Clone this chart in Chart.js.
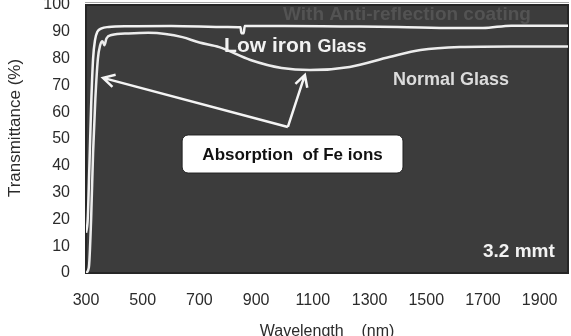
<!DOCTYPE html>
<html>
<head>
<meta charset="utf-8">
<script src="https://cdn.jsdelivr.net/npm/chart.js@4.4.1/dist/chart.umd.min.js"></script>
<style>
  html, body { margin: 0; padding: 0; background: #fff; }
  #grafico { display: block; }
</style>
</head>
<body>
<canvas id="grafico" width="571" height="336"></canvas>
<script>
// Datos (longitud de onda en nm, transmitancia en %)
const wlLowIron = [300, 306, 312, 318, 325, 332, 340, 355, 380, 450, 600, 800, 845, 848, 856, 860, 1000, 1200, 1400, 1600, 1700, 1800, 1900, 2000];
const tLowIron  = [15, 20, 40, 62, 80, 87, 90, 91.3, 91.8, 92.1, 92.2, 91.8, 91.7, 89.5, 89.5, 92.2, 92.2, 92.0, 91.8, 91.4, 91.4, 92.3, 92.3, 92.3];

const wlNormal = [300, 310, 318, 325, 333, 342, 350, 358, 365, 372, 390, 450, 520, 580, 640, 700, 770, 880, 990, 1090, 1230, 1370, 1480, 1620, 1800, 2000];
const tNormal  = [0, 2, 20, 45, 65, 80, 85, 86.5, 85, 87.5, 88.8, 89.4, 89.6, 89.2, 88, 86, 84.3, 79.5, 76.5, 75.7, 76.9, 80.6, 83.2, 84.3, 84.5, 84.5];

const xTicks = [300, 500, 700, 900, 1100, 1300, 1500, 1700, 1900];

// Anotaciones (en unidades de datos)
const flechaUnion = [1012, 54.5];
const flechaPuntas = [[360, 72.8], [1072, 73.9]];
const cajaX = [639, 1418];
const cajaY = [37.3, 51.5];

const FUENTE = '"Liberation Sans", Arial, sans-serif';

const fondoGrafico = {
    id: 'fondoGrafico',
    beforeDraw(chart) {
        const { ctx, chartArea: a } = chart;
        ctx.save();
        ctx.fillStyle = '#3c3c3c';
        ctx.fillRect(a.left, a.top, a.right - a.left, a.bottom - a.top);
        // borde del area
        ctx.strokeStyle = '#262626';
        ctx.lineWidth = 2;
        ctx.strokeRect(a.left, a.top, a.right - a.left, a.bottom - a.top);
        ctx.strokeStyle = '#a8a8a8';
        ctx.lineWidth = 1;
        ctx.beginPath();
        ctx.moveTo(a.left - 1, a.top - 2.5);
        ctx.lineTo(a.right + 1, a.top - 2.5);
        ctx.stroke();
        ctx.restore();
    },
    afterDraw(chart) {
        // titulos de los ejes
        const { ctx, chartArea: a } = chart;
        ctx.save();
        ctx.fillStyle = '#2b2b2b';
        ctx.font = '16px ' + FUENTE;
        ctx.textAlign = 'center';
        ctx.textBaseline = 'top';
        ctx.fillText('Wavelength    (nm)', (a.left + a.right) / 2, a.bottom + 51);
        ctx.translate(15, 128);
        ctx.rotate(-Math.PI / 2);
        ctx.font = '17px ' + FUENTE;
        ctx.textBaseline = 'middle';
        ctx.fillText('Transmittance (%)', 0, 0);
        ctx.restore();
    }
};

function flecha(ctx, x0, y0, x1, y1) {
    const ang = Math.atan2(y1 - y0, x1 - x0);
    const largo = 13;
    ctx.beginPath();
    ctx.moveTo(x0, y0);
    ctx.lineTo(x1, y1);
    ctx.moveTo(x1 - largo * Math.cos(ang - 0.5), y1 - largo * Math.sin(ang - 0.5));
    ctx.lineTo(x1, y1);
    ctx.lineTo(x1 - largo * Math.cos(ang + 0.5), y1 - largo * Math.sin(ang + 0.5));
    ctx.stroke();
}

const anotaciones = {
    id: 'anotaciones',
    afterDatasetsDraw(chart) {
        const { ctx } = chart;
        const sx = chart.scales.x, sy = chart.scales.y;
        const px = v => sx.getPixelForValue(v);
        const py = v => sy.getPixelForValue(v);
        ctx.save();

        // texto tenue de la curva con antirreflejo
        ctx.fillStyle = '#535353';
        ctx.font = 'bold 19px ' + FUENTE;
        ctx.textBaseline = 'alphabetic';
        ctx.fillText('With Anti-reflection coating', px(995), py(94.4));

        // flechas
        ctx.strokeStyle = '#f4f4f4';
        ctx.lineWidth = 2.5;
        flechaPuntas.forEach(p => {
            flecha(ctx, px(flechaUnion[0]), py(flechaUnion[1]), px(p[0]), py(p[1]));
        });

        // caja
        const bx = px(cajaX[0]), bw = px(cajaX[1]) - bx;
        const by = py(cajaY[1]), bh = py(cajaY[0]) - by;
        ctx.fillStyle = '#ffffff';
        ctx.strokeStyle = '#222';
        ctx.lineWidth = 1;
        ctx.beginPath();
        ctx.roundRect(bx, by, bw, bh, 6);
        ctx.fill();
        ctx.stroke();
        ctx.fillStyle = '#111';
        ctx.font = 'bold 17px ' + FUENTE;
        ctx.textAlign = 'center';
        ctx.textBaseline = 'middle';
        ctx.fillText('Absorption  of Fe ions', bx + bw / 2, by + bh / 2 + 1);

        // etiquetas de curvas
        ctx.textAlign = 'left';
        ctx.textBaseline = 'alphabetic';
        ctx.fillStyle = '#f2f2f2';
        ctx.font = 'bold 21px ' + FUENTE;
        const x0 = px(787), y0 = py(82.5);
        ctx.fillText('Low iron ', x0, y0);
        const w = ctx.measureText('Low iron ').width;
        ctx.font = 'bold 18px ' + FUENTE;
        ctx.fillText('Glass', x0 + w, y0);

        ctx.fillStyle = '#dcdcdc';
        ctx.font = 'bold 18px ' + FUENTE;
        ctx.fillText('Normal Glass', px(1383), py(70));

        ctx.fillStyle = '#f2f2f2';
        ctx.font = 'bold 19px ' + FUENTE;
        ctx.fillText('3.2 mmt', px(1700), py(6));

        ctx.restore();
    }
};

const puntos = (xs, ys) => xs.map((x, i) => ({ x: x, y: ys[i] }));

new Chart(document.getElementById('grafico').getContext('2d'), {
    type: 'line',
    data: {
        datasets: [
            {
                label: 'Low iron Glass',
                data: puntos(wlLowIron, tLowIron),
                borderColor: '#f2f2f2',
                borderWidth: 2.5,
                pointRadius: 0,
                cubicInterpolationMode: 'monotone'
            },
            {
                label: 'Normal Glass',
                data: puntos(wlNormal, tNormal),
                borderColor: '#ececec',
                borderWidth: 2.5,
                pointRadius: 0,
                cubicInterpolationMode: 'monotone'
            }
        ]
    },
    options: {
        responsive: false,
        animation: false,
        layout: { padding: { top: 5, right: 3, bottom: 0, left: 0 } },
        plugins: {
            legend: { display: false },
            tooltip: { enabled: false }
        },
        scales: {
            x: {
                type: 'linear',
                min: 300,
                max: 2000,
                afterBuildTicks: scale => { scale.ticks = xTicks.map(v => ({ value: v })); },
                afterFit: scale => {
                    scale.height = 63;
                    scale.paddingLeft = 0;
                    scale.paddingRight = 0;
                },
                grid: { display: false, drawTicks: false },
                border: { display: false },
                ticks: {
                    padding: 18,
                    maxRotation: 0,
                    autoSkip: false,
                    color: '#2b2b2b',
                    font: { family: FUENTE, size: 16 },
                    callback: v => String(v)
                },
                title: { display: false }
            },
            y: {
                min: 0,
                max: 100,
                afterFit: scale => {
                    scale.width = 86;
                    scale.paddingTop = 0;
                    scale.paddingBottom = 0;
                },
                grid: { display: false, drawTicks: false },
                border: { display: false },
                ticks: {
                    stepSize: 10,
                    padding: 16,
                    color: '#2b2b2b',
                    font: { family: FUENTE, size: 16 }
                },
                title: { display: false }
            }
        }
    },
    plugins: [fondoGrafico, anotaciones]
});
</script>
</body>
</html>
